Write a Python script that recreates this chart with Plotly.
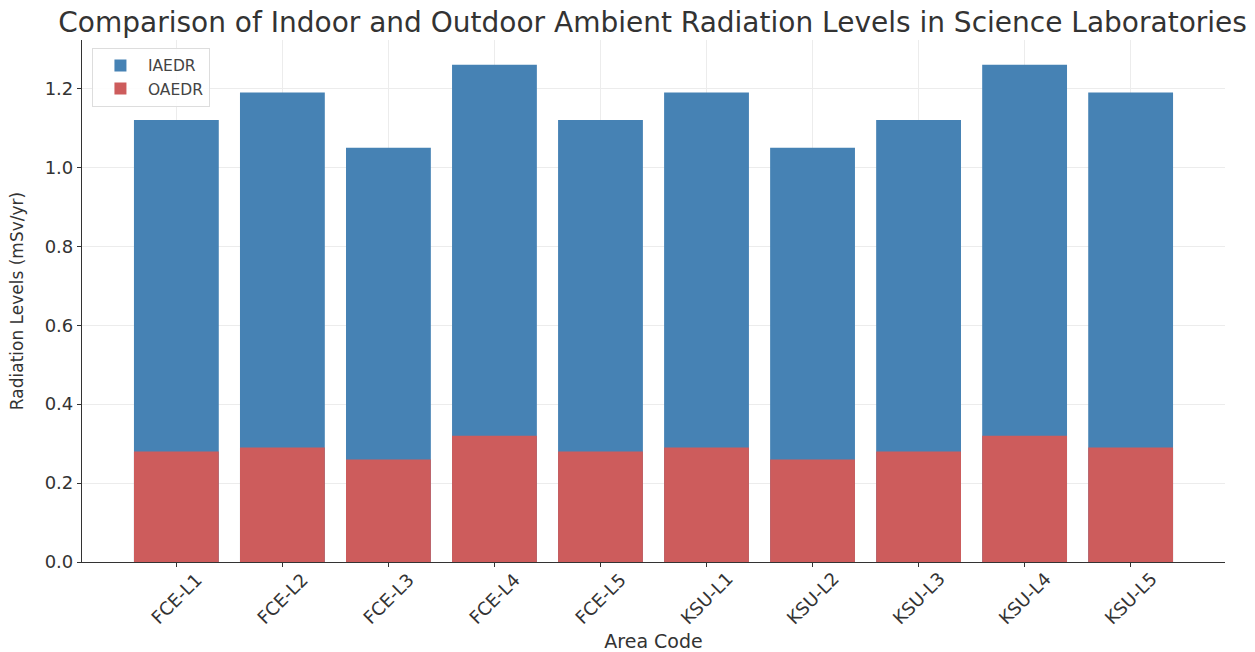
import plotly.graph_objects as go

categories = ["FCE-L1", "FCE-L2", "FCE-L3", "FCE-L4", "FCE-L5",
              "KSU-L1", "KSU-L2", "KSU-L3", "KSU-L4", "KSU-L5"]
iaedr = [1.12, 1.19, 1.05, 1.26, 1.12, 1.19, 1.05, 1.12, 1.26, 1.19]
oaedr = [0.28, 0.29, 0.26, 0.32, 0.28, 0.29, 0.26, 0.28, 0.32, 0.29]
y_ticks = [0.0, 0.2, 0.4, 0.6, 0.8, 1.0, 1.2]

xs = list(range(len(categories)))
fig = go.Figure()
fig.add_trace(go.Bar(x=xs, y=iaedr, name="IAEDR", marker_color="#4682B4",
                     marker_line_width=0, width=0.8))
fig.add_trace(go.Bar(x=xs, y=oaedr, name="OAEDR", marker_color="#CD5C5C",
                     marker_line_width=0, width=0.8))

# rotated category labels centred under each tick (matplotlib-like)
for i, lab in zip(xs, categories):
    fig.add_annotation(x=i, xref="x", y=0, yref="paper", yshift=-4,
                       text=lab, showarrow=False, textangle=-45,
                       xanchor="center", yanchor="top",
                       font=dict(size=18, color="#333333"))

font_family = "DejaVu Sans"
fig.update_layout(
    barmode="overlay",
    width=1255, height=652,
    margin=dict(l=82, r=30, t=40, b=90, autoexpand=False),
    paper_bgcolor="white", plot_bgcolor="white",
    font=dict(family=font_family, size=16, color="#333333"),
    title=dict(text="Comparison of Indoor and Outdoor Ambient Radiation Levels in Science Laboratories",
               x=0.52, xanchor="center", y=0.966, yanchor="middle",
               font=dict(size=28, color="#333333")),
    legend=dict(x=0.0087, y=0.985, xanchor="left", yanchor="top",
                bgcolor="rgba(255,255,255,0.9)", bordercolor="#dddddd", borderwidth=1,
                font=dict(size=15.5, color="#444444"), tracegroupgap=0, itemwidth=45),
    xaxis=dict(tickmode="array", tickvals=xs, ticktext=categories, showticklabels=False,
               range=[-0.89, 9.89], showgrid=True, gridcolor="#ececec",
               showline=True, linecolor="#333333", linewidth=1.2,
               ticks="outside", ticklen=4, tickcolor="#333333", automargin=False,
               title=dict(text="Area Code", standoff=72, font=dict(size=19))),
    yaxis=dict(range=[0, 1.323], tickvals=y_ticks,
               ticktext=[f"{v:.1f}" for v in y_ticks],
               showgrid=True, gridcolor="#ececec",
               showline=True, linecolor="#333333", linewidth=1.2,
               ticks="outside", ticklen=4, tickcolor="#333333", zeroline=False,
               automargin=False,
               title=dict(text="Radiation Levels (mSv/yr)", standoff=16, font=dict(size=17)),
               tickfont=dict(size=18)),
)
fig.write_html("out.html", config={"displayModeBar": False},
               post_script="document.body.style.margin='0';")
